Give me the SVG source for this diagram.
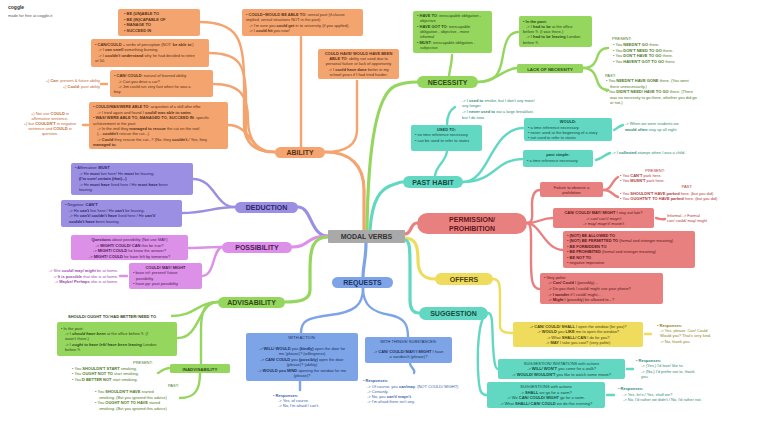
<svg xmlns="http://www.w3.org/2000/svg" width="768" height="425" viewBox="0 0 768 425">
<style>
text{font-family:"Liberation Sans",Arial,sans-serif;font-size:4px;}
.b{font-weight:bold}
.i{font-style:italic}
.c{text-anchor:middle}
.r{text-anchor:end}
.lbl{font-size:7px;font-weight:bold;text-anchor:middle}
.sl{font-size:4.4px;font-weight:bold;text-anchor:middle}
#connectors path{fill:none;stroke-linecap:round}
.k-or{stroke:#f4a46e;stroke-width:2.4}
.k-pu{stroke:#9a8fe3;stroke-width:2.4}
.k-pk{stroke:#dd90e7;stroke-width:2.4}
.k-gr{stroke:#95d65e;stroke-width:2.4}
.k-bl{stroke:#7ea4e8;stroke-width:2.4}
.k-te{stroke:#62d8c3;stroke-width:2.4}
.k-sa{stroke:#e98080;stroke-width:2.4}
.k-ye{stroke:#efdc5d;stroke-width:2.4}
#connectors path.m{stroke-width:3.2}
.f-or{fill:#f3a46f}.f-pu{fill:#9a8fe3}.f-pk{fill:#dd90e7}.f-gr{fill:#95d65e}
.f-bl{fill:#7ea4e8}.f-te{fill:#62d8c3}.f-sa{fill:#e98080}.f-ye{fill:#efdc5d}
.t-or{fill:#5a3218}.t-pu{fill:#2c2666}.t-pk{fill:#4c1d58}.t-gr{fill:#2d4a16}
.t-bl{fill:#1d3260}.t-te{fill:#174a40}.t-sa{fill:#5c1818}.t-ye{fill:#4c4410}
.a-or{fill:#c06a32}.a-pk{fill:#9b3fae}.a-gr{fill:#4d7a25}.a-bl{fill:#3a5fa8}
.a-te{fill:#2f8a78}.a-sa{fill:#b03a3a}.a-ye{fill:#8f8020}
</style>

<text x="8" y="9" class="b" style="font-size:5px" fill="#333">coggle</text>
<text x="8" y="17" fill="#555">made for free at coggle.it</text>

<g id="connectors">
  <!-- ability -->
  <path class="k-or m" d="M364,230 L364,190 C364,165 350,152 325,152"/>
  <path class="k-or" d="M200,22 C238,22 244,40 244,80 L244,125 C244,145 258,152 275,152"/>
  <path class="k-or" d="M209,53 C240,53 246,65 246,100 L246,130 C246,148 260,152 275,152"/>
  <path class="k-or" d="M213,84 C240,84 248,95 248,120 C248,145 262,152 275,152"/>
  <path class="k-or" d="M228,125 C245,125 250,140 258,148 C262,152 268,152 275,152"/>
  <path class="k-or" d="M301,37 L301,147"/>
  <path class="k-or" d="M357,81 L357,130 C357,145 345,152 325,152"/>
  <path class="k-or" d="M101,84 L107,84"/>
  <path class="k-or" d="M83,125 L88,125"/>
  <!-- deduction -->
  <path class="k-pu m" d="M328,236 C310,236 312,207 298,207"/>
  <path class="k-pu" d="M193,179 C215,179 215,207 235,207"/>
  <path class="k-pu" d="M182,213 C205,213 215,207 235,207"/>
  <!-- possibility -->
  <path class="k-pk m" d="M328,236 C305,236 310,247 292,247"/>
  <path class="k-pk" d="M188,248 C200,248 210,247 222,247"/>
  <path class="k-pk" d="M202,276 C215,276 212,250 222,247"/>
  <path class="k-pk" d="M120,276 L127,276"/>
  <!-- advisability -->
  <path class="k-gr m" d="M328,237 C312,237 310,250 310,270 L310,290 C310,300 300,302 285,302"/>
  <path class="k-gr" d="M172,316 C195,316 198,302 218,302"/>
  <path class="k-gr" d="M178,338 C200,338 198,302 218,302"/>
  <path class="k-gr" d="M218,302 C205,302 201,310 201,330 L201,364"/>
  <path class="k-gr" d="M158,373 C163,370 165,368 170,368"/>
  <path class="k-gr" d="M200,373 C200,390 195,398 180,398"/>
  <!-- necessity -->
  <path class="k-gr m" d="M367,230 C368,150 376,95 395,86 C402,83 410,82 417,82"/>
  <path class="k-gr" d="M449,76 C450,68 452,62 452,55"/>
  <path class="k-gr" d="M478,82 C495,82 500,75 503,55 C506,38 510,32 519,32"/>
  <path class="k-gr" d="M478,82 C495,82 505,68 517,68"/>
  <path class="k-gr" d="M583,68 C595,68 596,60 598,55 C600,50 603,48 608,48"/>
  <path class="k-gr" d="M583,68 C595,68 596,78 598,83 C600,88 603,90 608,90"/>
  <!-- past habit -->
  <path class="k-te m" d="M370,230 C372,200 380,188 395,184 C398,183 400,182 403,182"/>
  <path class="k-te" d="M435,176 C436,165 446,162 447,151"/>
  <path class="k-te" d="M447,125 C447,115 450,110 455,107"/>
  <path class="k-te" d="M463,182 C490,182 490,128 524,128"/>
  <path class="k-te" d="M463,182 C495,182 495,159 523,159"/>
  <path class="k-te" d="M614,130 C618,128 619,126 623,125"/>
  <path class="k-te" d="M596,160 C603,158 604,155 610,153"/>
  <!-- permission -->
  <path class="k-sa m" d="M405,234 C412,234 410,223 417,223"/>
  <path class="k-sa" d="M527,223 C534,223 532,214 532,205 C532,195 534,190 540,190"/>
  <path class="k-sa" d="M527,223 C540,223 540,218 553,218"/>
  <path class="k-sa" d="M527,223 C540,223 545,250 563,250"/>
  <path class="k-sa" d="M527,223 C532,223 531,235 531,260 C531,280 532,289 540,289"/>
  <path class="k-sa" d="M603,190 C612,190 612,180 618,177"/>
  <path class="k-sa" d="M603,190 C612,190 612,195 618,197"/>
  <path class="k-sa" d="M656,218 C660,219 662,220 665,219"/>
  <!-- offers -->
  <path class="k-ye m" d="M405,238 C415,238 418,245 418,260 C418,275 425,279 435,279"/>
  <path class="k-ye" d="M493,279 C500,279 500,285 500,300 L500,325 C500,332 505,333 513,333"/>
  <path class="k-ye" d="M645,334 L651,334"/>
  <!-- suggestion -->
  <path class="k-te m" d="M405,240 C410,240 410,250 410,270 L410,300 C410,310 414,313 419,313"/>
  <path class="k-te" d="M488,313 C493,313 492,325 493,345 C494,362 495,369 498,369"/>
  <path class="k-te" d="M488,313 C480,315 477,340 478,370 C479,390 480,395 487,395"/>
  <path class="k-te" d="M627,369 L633,369"/>
  <path class="k-te" d="M607,395 L614,395"/>
  <!-- requests -->
  <path class="k-bl m" d="M366,243 C366,260 363,265 363,277"/>
  <path class="k-bl" d="M363,288 C363,305 355,312 330,315 C305,318 301,322 301,333"/>
  <path class="k-bl" d="M363,288 C363,305 372,312 390,315 C405,318 408,325 408,337"/>
  <path class="k-bl" d="M300,381 L300,390"/>
  <path class="k-bl" d="M410,363 C410,368 416,369 414,373"/>
</g>

<g id="modal-verbs">
  <rect x="328" y="230" width="77" height="13" rx="1" fill="#a9a9a9"/>
  <text x="366.5" y="239" class="lbl" fill="#333">MODAL VERBS</text>
</g>

<g id="ability">
  <rect x="275" y="147" width="50" height="11" rx="5.5" class="f-or"/>
  <text x="300" y="155" class="lbl t-or">ABILITY</text>
</g>
<g id="ability-1" class="t-or">
  <rect x="118" y="9" width="82" height="27" rx="2" class="f-or"/>
  <text x="124" y="15" class="b">• BE (UN)ABLE TO</text>
  <text x="124" y="20.5" class="b">• BE (IN)CAPABLE OF</text>
  <text x="124" y="26" class="b">• MANAGE TO</text>
  <text x="124" y="31.5" class="b">• SUCCEED IN</text>
</g>
<g id="ability-2" class="t-or">
  <rect x="91" y="39" width="118" height="28" rx="2" class="f-or"/>
  <text x="95" y="45.5">• <tspan class="b">CAN/COULD</tspan> + verbs of perception (NOT '<tspan class="b">be able to</tspan>')</text>
  <text x="98" y="51">-&gt; I <tspan class="b">can smell</tspan> something burning.</text>
  <text x="98" y="56.5">-&gt; I <tspan class="b">couldn't understand</tspan> why he had decided to retire</text>
  <text x="95" y="62">at 50.</text>
</g>
<g id="ability-3" class="t-or">
  <rect x="110" y="70" width="103" height="27" rx="2" class="f-or"/>
  <text x="114" y="77">• <tspan class="b">CAN/ COULD</tspan>: natural of learned ability</text>
  <text x="118" y="82.5">-&gt; Can you drive a car?</text>
  <text x="118" y="88">-&gt; Jim could run very fast when he was a</text>
  <text x="114" y="93">boy.</text>
</g>
<g id="ability-3-note" class="a-or">
  <text x="100" y="82" class="r">+) <tspan class="b">Can</tspan>: present &amp; future ability</text>
  <text x="100" y="88" class="r">+) <tspan class="b">Could</tspan>: past ability</text>
</g>
<g id="ability-4" class="t-or">
  <rect x="89" y="102" width="139" height="47" rx="2" class="f-or"/>
  <text x="93" y="108" style="font-size:3.8px">• <tspan class="b">COULD/WAS/WERE ABLE TO</tspan>: acquisition of a skill after effor</text>
  <text x="97" y="113.5">-&gt; I tried again and found I <tspan class="b">could/ was able to swim</tspan>.</text>
  <text x="93" y="119">• <tspan class="b">WAS/ WERE ABLE TO, MANAGED TO, SUCCEED IN</tspan>: specific</text>
  <text x="93" y="124.5">achievement in the past</text>
  <text x="97" y="130">-&gt; In the end they <tspan class="b">managed to rescue</tspan> the cat on the roof.</text>
  <text x="97" y="135">(... <tspan class="b">couldn't</tspan> rescue the cat...)</text>
  <text x="97" y="140.5">-&gt; <tspan class="b">Could</tspan> they rescue the cat...? (No, they <tspan class="b">couldn't</tspan>./ Yes, they</text>
  <text x="93" y="146"><tspan class="b">managed to</tspan>.</text>
</g>
<g id="ability-4-note" class="a-or">
  <text x="50" y="115" class="c">+) Not use <tspan class="b">COULD</tspan> in</text>
  <text x="50" y="120" class="c">affirmative sentence.</text>
  <text x="50" y="125" class="c">+) but <tspan class="b">COULDN'T</tspan> in negative</text>
  <text x="50" y="130" class="c">sentence and <tspan class="b">COULD</tspan> in</text>
  <text x="50" y="135" class="c">question.</text>
</g>
<g id="ability-5" class="t-or">
  <rect x="242" y="9" width="121" height="27" rx="2" class="f-or"/>
  <text x="246" y="16">• <tspan class="b">COULD~WOULD BE ABLE TO</tspan>: unreal past (if-clause</text>
  <text x="246" y="21">implied, unreal situations NOT in the past)</text>
  <text x="249" y="26.5">-&gt; I'm sure you <tspan class="b">could get</tspan> in to university (if you applied).</text>
  <text x="249" y="32">-&gt; I <tspan class="b">could hit</tspan> you now!</text>
</g>
<g id="ability-6" class="t-or">
  <rect x="318" y="49" width="81" height="30" rx="2" class="f-or"/>
  <text x="358.5" y="55" class="c b">COULD HAVE/ WOULD HAVE BEEN</text>
  <text x="358.5" y="60" class="c"><tspan class="b">ABLE TO</tspan>: ability not used due to</text>
  <text x="358.5" y="65" class="c">personal failure or lack of opportunity</text>
  <text x="358.5" y="71" class="c">-&gt; I <tspan class="b">could have done</tspan> better in my</text>
  <text x="358.5" y="76" class="c">school years if I had tried harder.</text>
</g>

<g id="deduction">
  <rect x="235" y="202" width="63" height="11" rx="5.5" class="f-pu"/>
  <text x="266.5" y="210" class="lbl t-pu">DEDUCTION</text>
</g>
<g id="deduction-1" class="t-pu">
  <rect x="71" y="163" width="122" height="32" rx="2" class="f-pu"/>
  <text x="75" y="169">• Affirmative: <tspan class="b">MUST</tspan></text>
  <text x="79" y="175">-&gt; He <tspan class="b">must</tspan> live here! He <tspan class="b">must</tspan> be leaving.</text>
  <text x="79" y="180" class="b">(I'm sure/ certain (that)...)</text>
  <text x="79" y="185.5">-&gt; He <tspan class="b">must have</tspan> lived here / He <tspan class="b">must have</tspan> been</text>
  <text x="79" y="191">leaving.</text>
</g>
<g id="deduction-2" class="t-pu">
  <rect x="61" y="200" width="121" height="27" rx="2" class="f-pu"/>
  <text x="65" y="206">• Negative: <tspan class="b">CAN'T</tspan></text>
  <text x="69" y="211.5">-&gt; He <tspan class="b">can't</tspan> live here / He <tspan class="b">can't</tspan> be leaving.</text>
  <text x="69" y="217">-&gt; He <tspan class="b">can't/ couldn't have</tspan> lived here / He <tspan class="b">can't/</tspan></text>
  <text x="69" y="222.5"><tspan class="b">couldn't have</tspan> been leaving.</text>
</g>

<g id="possibility">
  <rect x="222" y="242" width="70" height="11" rx="5.5" class="f-pk"/>
  <text x="257" y="250" class="lbl t-pk">POSSIBILITY</text>
</g>
<g id="possibility-1" class="t-pk">
  <rect x="71" y="235" width="117" height="25" rx="2" class="f-pk"/>
  <text x="129.5" y="241" class="c"><tspan class="b">Questions</tspan> about possibility (Not use MAY)</text>
  <text x="129.5" y="246.5" class="c">-&gt; <tspan class="b">MIGHT/ COULD/ CAN</tspan> this be true?</text>
  <text x="129.5" y="252" class="c">-&gt; <tspan class="b">MIGHT/ COULD</tspan> he know the answer?</text>
  <text x="129.5" y="257.5" class="c">-&gt; <tspan class="b">MIGHT/ COULD</tspan> he have left by tomorrow?</text>
</g>
<g id="possibility-2" class="t-pk">
  <rect x="129" y="263" width="73" height="26" rx="2" class="f-pk"/>
  <text x="165.5" y="268.5" class="c b">COULD/ MAY/ MIGHT</text>
  <text x="133" y="274">• base inf: present/ future</text>
  <text x="136" y="279.5">possibility</text>
  <text x="133" y="285">• have pp: past possibility</text>
</g>
<g id="possibility-note" class="a-pk">
  <text x="118" y="272" class="r">-&gt; She <tspan class="b i">could/ may/ might</tspan> be at home.</text>
  <text x="118" y="277.5" class="r">-&gt; <tspan class="b">It is possible</tspan> that she is at home.</text>
  <text x="118" y="283" class="r">-&gt; <tspan class="b">Maybe/ Perhaps</tspan> she is at home.</text>
</g>

<g id="advisability">
  <rect x="218" y="297" width="67" height="11" rx="5.5" class="f-gr"/>
  <text x="251.5" y="305" class="lbl t-gr">ADVISABILITY</text>
</g>
<g id="advisability-label" class="t-gr">
  <text x="68" y="317.5" class="b">SHOULD/ OUGHT TO/ HAD BETTER/ NEED TO</text>
</g>
<g id="advisability-1" class="t-gr">
  <rect x="57" y="322" width="120" height="34" rx="2" class="f-gr"/>
  <text x="61" y="329.5">• In the past:</text>
  <text x="65" y="335">-&gt; I <tspan class="b i">should have been</tspan> at the office before 9. (I</text>
  <text x="65" y="340">wasn't there.)</text>
  <text x="65" y="345.5">-&gt; I <tspan class="b i">ought to have left/ have been leaving</tspan> London</text>
  <text x="65" y="351">before 9.</text>
</g>
<g id="inadvisability" class="t-gr">
  <rect x="170" y="364" width="60" height="9" rx="1.5" class="f-gr"/>
  <text x="200" y="370.5" class="sl">INADVISABILITY</text>
</g>
<g id="inadvisability-notes" class="a-gr">
  <text x="133" y="363.5">PRESENT:</text>
  <text x="72" y="369.5">• You <tspan class="b">SHOULDN'T START</tspan> smoking.</text>
  <text x="72" y="375">• You <tspan class="b">OUGHT NOT TO</tspan> start smoking.</text>
  <text x="72" y="380.5">• You'<tspan class="b">D BETTER NOT</tspan> start smoking.</text>
  <text x="168" y="386.5">PAST:</text>
  <text x="95" y="393">• You <tspan class="b">SHOULDN'T HAVE</tspan> started</text>
  <text x="99" y="398.5">smoking. (But you ignored this advice)</text>
  <text x="95" y="404">• You <tspan class="b">OUGHT NOT TO HAVE</tspan> stared</text>
  <text x="99" y="409.5">smoking. (But you ignored this advice)</text>
</g>

<g id="requests">
  <rect x="332" y="277" width="61" height="11" rx="5.5" class="f-bl"/>
  <text x="362.5" y="285" class="lbl t-bl">REQUESTS</text>
</g>
<g id="requests-1" class="t-bl">
  <rect x="246" y="333" width="112" height="48" rx="2" class="f-bl"/>
  <text x="302" y="339" class="c">WITH ACTION:</text>
  <text x="302" y="350" class="c">-&gt; <tspan class="b">WILL/ WOULD</tspan> you <tspan class="b">(kindly)</tspan> open the door for</text>
  <text x="302" y="355" class="c">me (please)? (willingness)</text>
  <text x="302" y="361" class="c">-&gt; <tspan class="b">CAN/ COULD</tspan> you <tspan class="b">(possibly)</tspan> open the door</text>
  <text x="302" y="366" class="c">(please)? (ability)</text>
  <text x="302" y="372" class="c">-&gt; <tspan class="b">WOULD you MIND</tspan> opening the window for me</text>
  <text x="302" y="377" class="c">(please)?</text>
</g>
<g id="requests-1-resp" class="a-bl">
  <text x="273" y="396.5">• <tspan class="b">Responses:</tspan></text>
  <text x="278" y="401.5">-&gt; Yes, of course.</text>
  <text x="278" y="406.5">-&gt; No, I'm afraid I can't.</text>
</g>
<g id="requests-2" class="t-bl">
  <rect x="365" y="337" width="87" height="26" rx="2" class="f-bl"/>
  <text x="408.5" y="343" class="c">WITH THINGS/ SUBSTANCES:</text>
  <text x="408.5" y="353" class="c">-&gt; <tspan class="b">CAN/ COULD/ MAY/ I MIGHT</tspan> I have</text>
  <text x="408.5" y="358" class="c">a sandwich (please)?</text>
</g>
<g id="requests-2-resp" class="a-bl">
  <text x="363" y="382">• <tspan class="b">Responses:</tspan></text>
  <text x="367" y="387.5">-&gt; Of course, you <tspan class="b">can/may</tspan>. (NOT COULD/ MIGHT)</text>
  <text x="367" y="392.5">-&gt; Certainly.</text>
  <text x="367" y="398">-&gt; No, you <tspan class="b">can't/ mayn't</tspan>.</text>
  <text x="367" y="403">-&gt; I'm afraid there isn't any.</text>
</g>

<g id="necessity">
  <rect x="417" y="76" width="61" height="12" rx="6" class="f-gr"/>
  <text x="447.5" y="84.5" class="lbl t-gr">NECESSITY</text>
</g>
<g id="necessity-1" class="t-gr">
  <rect x="413" y="11" width="79" height="42" rx="2" class="f-gr"/>
  <text x="417" y="16.5">• <tspan class="b">HAVE TO</tspan>: inescapable obligation -</text>
  <text x="420" y="21.5">objective</text>
  <text x="417" y="28">• <tspan class="b">HAVE GOT TO</tspan>: inescapable</text>
  <text x="420" y="33">obligation - objective - more</text>
  <text x="420" y="38">informal</text>
  <text x="417" y="43.5">• <tspan class="b">MUST</tspan>: inescapable obligation -</text>
  <text x="420" y="49">subjective</text>
</g>
<g id="necessity-2" class="t-gr">
  <rect x="519" y="16" width="73" height="31" rx="2" class="f-gr"/>
  <text x="523" y="22.5">• <tspan class="b">In the past:</tspan></text>
  <text x="526" y="27.5">-&gt; I <tspan class="b">had to be</tspan> at the office</text>
  <text x="523" y="33">before 9. (I was there.)</text>
  <text x="526" y="38">-&gt; I <tspan class="b">had to be leaving</tspan> London</text>
  <text x="523" y="43.5">before 9.</text>
</g>
<g id="lack-of-necessity" class="t-gr">
  <rect x="517" y="64" width="66" height="9" rx="1.5" class="f-gr"/>
  <text x="550" y="70.5" class="sl">LACK OF NECESSITY</text>
</g>
<g id="lack-notes" class="a-gr">
  <text x="612" y="40">PRESENT:</text>
  <text x="613" y="46">• You <tspan class="b">NEEDN'T GO</tspan> there.</text>
  <text x="613" y="51.5">• You <tspan class="b">DON'T NEED TO GO</tspan> there.</text>
  <text x="613" y="57">• You <tspan class="b">DON'T HAVE TO GO</tspan> there.</text>
  <text x="613" y="62.5">• You <tspan class="b">HAVEN'T GOT TO GO</tspan> there.</text>
  <text x="605" y="76.5">PAST:</text>
  <text x="606" y="82">• You <tspan class="b">NEEDN'T HAVE GONE</tspan> there. (You went</text>
  <text x="610" y="87.5">there unnecessarily.)</text>
  <text x="606" y="93">• You <tspan class="b">DIDN'T NEED/ HAVE TO GO</tspan> there. (There</text>
  <text x="610" y="98.5">was no necessity to go there, whether you did go</text>
  <text x="610" y="104">or not.)</text>
</g>

<g id="past-habit">
  <rect x="403" y="176" width="60" height="12" rx="6" class="f-te"/>
  <text x="433" y="184.5" class="lbl t-te">PAST HABIT</text>
</g>
<g id="used-to-notes" class="a-te">
  <text x="462" y="101.5">-&gt; I <tspan class="b">used to</tspan> smoke, but I don't any more/</text>
  <text x="462" y="107">any longer.</text>
  <text x="462" y="113">-&gt; I <tspan class="b">never used to</tspan> eat a large breakfast,</text>
  <text x="462" y="118.5">but I do now.</text>
</g>
<g id="used-to" class="t-te">
  <rect x="411" y="125" width="71" height="26" rx="2" class="f-te"/>
  <text x="446.5" y="130.5" class="c b">USED TO:</text>
  <text x="415" y="136">• no time reference necessary</text>
  <text x="415" y="141.5">• can be used to refer to states</text>
</g>
<g id="would" class="t-te">
  <rect x="524" y="118" width="88" height="23" rx="2" class="f-te"/>
  <text x="568" y="123" class="c b">WOULD:</text>
  <text x="528" y="129">• a time reference necessary</text>
  <text x="528" y="134">• never used at the beginning of a story</text>
  <text x="528" y="139">• not used to refer to states</text>
</g>
<g id="would-note" class="a-te">
  <text x="625" y="125">-&gt; When we were students we</text>
  <text x="625" y="130.5"><tspan class="b">would often</tspan> stay up all night.</text>
</g>
<g id="past-simple" class="t-te">
  <rect x="523" y="150" width="70" height="17" rx="2" class="f-te"/>
  <text x="558" y="155.5" class="c b">past simple:</text>
  <text x="527" y="162">• a time reference necessary</text>
</g>
<g id="past-simple-note" class="a-te">
  <text x="612" y="154">-&gt; I <tspan class="b">collected</tspan> stamps when I was a child.</text>
</g>

<g id="permission">
  <rect x="417" y="213" width="110" height="21" rx="10.5" class="f-sa"/>
  <text x="472" y="222" class="lbl t-sa">PERMISSION/</text>
  <text x="472" y="230.5" class="lbl t-sa">PROHIBITION</text>
</g>
<g id="permission-1" class="t-sa">
  <rect x="540" y="182" width="63" height="15" rx="2" class="f-sa"/>
  <text x="571.5" y="188.5" class="c">Failure to observe a</text>
  <text x="571.5" y="194" class="c">prohibition</text>
</g>
<g id="permission-1-notes" class="a-sa">
  <text x="655" y="171.5" class="c">PRESENT:</text>
  <text x="620" y="177">• You <tspan class="b">CAN'T</tspan> park here.</text>
  <text x="620" y="182">• You <tspan class="b">MUSN'T</tspan> park here.</text>
  <text x="687" y="188" class="c">PAST:</text>
  <text x="620" y="194.5">• You <tspan class="b">SHOULDN'T HAVE parked</tspan> here. (but you did)</text>
  <text x="620" y="199.5">• You <tspan class="b">OUGHTN'T TO HAVE parked</tspan> here. (but you did)</text>
</g>
<g id="permission-2" class="t-sa">
  <rect x="553" y="208" width="101" height="20" rx="2" class="f-sa"/>
  <text x="603.5" y="213.5" class="c"><tspan class="b">CAN/ COULD/ MAY/ MIGHT</tspan> I stay out late?</text>
  <text x="603.5" y="219.5" class="c">-&gt; can/ can't/ mayn't</text>
  <text x="603.5" y="225" class="c">-&gt; may/ mayn't/ mustn't</text>
</g>
<g id="permission-2-note" class="a-sa">
  <text x="667" y="216.5">Informal -&gt; Formal</text>
  <text x="667" y="222">can/ could/ may/ might</text>
</g>
<g id="permission-3" class="t-sa">
  <rect x="563" y="231" width="132" height="37" rx="2" class="f-sa"/>
  <text x="567" y="236.5">• <tspan class="b">(NOT) BE ALLOWED TO</tspan></text>
  <text x="567" y="242">• <tspan class="b">(NOT) BE PERMITTED TO</tspan> (formal and stronger meaning)</text>
  <text x="567" y="247.5">• <tspan class="b">BE FORBIDDEN TO</tspan></text>
  <text x="567" y="253">• <tspan class="b">BE PROHIBITED</tspan> (formal and stronger meaning)</text>
  <text x="567" y="258.5">• <tspan class="b">BE NOT TO</tspan></text>
  <text x="567" y="264">• negative imperative</text>
</g>
<g id="permission-4" class="t-sa">
  <rect x="540" y="273" width="123" height="31" rx="2" class="f-sa"/>
  <text x="544" y="278.5">• Very polite:</text>
  <text x="548" y="284">-&gt; <tspan class="b">Can/ Could</tspan> I (possibly)...</text>
  <text x="548" y="290">-&gt; Do you think I could/ might use your phone?</text>
  <text x="548" y="295.5">-&gt; <tspan class="b">I wonder</tspan> if I could/ might...</text>
  <text x="548" y="300.5">-&gt; <tspan class="b">Might</tspan> I (possibly) be allowed to...?</text>
</g>

<g id="offers">
  <rect x="435" y="273" width="58" height="12" rx="6" class="f-ye"/>
  <text x="464" y="281.5" class="lbl t-ye">OFFERS</text>
</g>
<g id="offers-1" class="t-ye">
  <rect x="513" y="322" width="130" height="25" rx="2" class="f-ye"/>
  <text x="578" y="327.5" class="c">-&gt; <tspan class="b">CAN/ COULD/ SHALL</tspan> I open the window (for you)?</text>
  <text x="578" y="333" class="c">-&gt; <tspan class="b">WOULD</tspan> you <tspan class="b">LIKE</tspan> me to open the window?</text>
  <text x="578" y="339" class="c">-&gt; What <tspan class="b">SHALL/ CAN</tspan> I do for you?</text>
  <text x="578" y="344" class="c">-&gt; <tspan class="b">MAY</tspan> I take you coat? (very polite)</text>
</g>
<g id="offers-resp" class="a-ye">
  <text x="657" y="326.5">• <tspan class="b">Responses:</tspan></text>
  <text x="660" y="332">-&gt; Yes, please. Can/ Could</text>
  <text x="660" y="337">Would you? That's very kind.</text>
  <text x="660" y="343">-&gt; No, thank you.</text>
</g>

<g id="suggestion">
  <rect x="419" y="307" width="69" height="13" rx="6.5" class="f-te"/>
  <text x="453.5" y="316" class="lbl t-te">SUGGESTION</text>
</g>
<g id="suggestion-1" class="t-te">
  <rect x="498" y="359" width="127" height="20" rx="2" class="f-te"/>
  <text x="561.5" y="364.5" class="c">SUGGESTION/ INVITATIONS with actions</text>
  <text x="561.5" y="370" class="c">-&gt; <tspan class="b">WILL/ WON'T</tspan> you come for a walk?</text>
  <text x="561.5" y="375.5" class="c">-&gt; <tspan class="b">WOULD/ WOULDN'T</tspan> you like to watch some movie?</text>
</g>
<g id="suggestion-1-resp" class="a-te">
  <text x="636" y="361.5">• <tspan class="b">Responses:</tspan></text>
  <text x="641" y="367">-&gt; (Yes,) I'd love/ like to.</text>
  <text x="641" y="372.5">-&gt; (No,) I'd prefer not to, thank</text>
  <text x="641" y="378">you.</text>
</g>
<g id="suggestion-2" class="t-te">
  <rect x="487" y="382" width="118" height="26" rx="2" class="f-te"/>
  <text x="546" y="388" class="c">SUGGESTIONS with actions</text>
  <text x="546" y="393.5" class="c">-&gt; <tspan class="b">SHALL</tspan> we go for a swim?</text>
  <text x="546" y="399" class="c">-&gt; We <tspan class="b">CAN/ COULD/ MIGHT</tspan> go for a swim.</text>
  <text x="546" y="404.5" class="c">-&gt; What <tspan class="b">SHALL/ CAN/ COULD</tspan> we do this evening?</text>
</g>
<g id="suggestion-2-resp" class="a-te">
  <text x="618" y="390">• <tspan class="b">Responses:</tspan></text>
  <text x="623" y="395.5">-&gt; Yes, let's./ Yes, shall we?</text>
  <text x="623" y="401">-&gt; No, I'd rather we didn't./ No, I'd rather not.</text>
</g>
</svg>
